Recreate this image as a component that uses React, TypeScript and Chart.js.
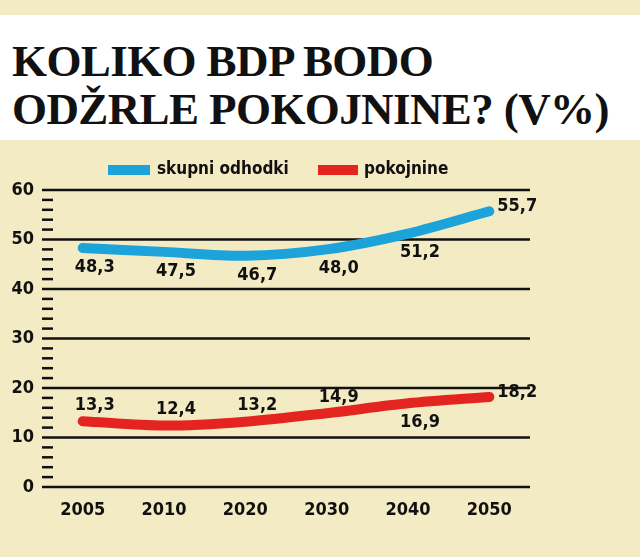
import React, { useEffect, useRef } from "react";
import { Chart, registerables } from "chart.js";
Chart.register(...registerables);

const categories = ["2005", "2010", "2020", "2030", "2040", "2050"];
const skupni = [48.3, 47.5, 46.7, 48.0, 51.2, 55.7];
const pokojnine = [13.3, 12.4, 13.2, 14.9, 16.9, 18.2];
const yTicks = [0, 10, 20, 30, 40, 50, 60];
const skupniPos = ["below", "below", "below", "below", "below", "right"];
const pokPos = ["above", "above", "above", "above", "below", "right"];
const fmt = (v: number) => v.toFixed(1).replace(".", ",");
const FONT = "'DejaVu Sans Condensed', 'Liberation Sans Narrow', sans-serif";

const drawPlugin = {
  id: "custom",
  beforeDatasetsDraw(chart: any) {
    const { ctx, chartArea: a, scales } = chart;
    const y = scales.y;
    ctx.save();
    ctx.strokeStyle = "#111";
    ctx.lineWidth = 2.5;
    yTicks.forEach((t) => {
      const py = y.getPixelForValue(t);
      ctx.beginPath(); ctx.moveTo(a.left, py); ctx.lineTo(a.right, py); ctx.stroke();
    });
    for (let v = 2; v < 60; v += 2) {
      if (v % 10 === 0) continue;
      const py = y.getPixelForValue(v);
      ctx.beginPath(); ctx.moveTo(a.left, py); ctx.lineTo(a.left + 11, py); ctx.stroke();
    }
    ctx.fillStyle = "#111";
    ctx.font = `bold 18px ${FONT}`;
    ctx.textAlign = "right"; ctx.textBaseline = "middle";
    yTicks.forEach((t) => ctx.fillText(String(t), a.left - 8, y.getPixelForValue(t)));
    ctx.textAlign = "center"; ctx.textBaseline = "top";
    categories.forEach((c, i) => ctx.fillText(c, scales.x.getPixelForValue(i), a.bottom + 14));
    ctx.lineWidth = 10; ctx.lineCap = "butt";
    ctx.strokeStyle = "#1ba3da";
    ctx.beginPath(); ctx.moveTo(108, 30); ctx.lineTo(150, 30); ctx.stroke();
    ctx.strokeStyle = "#e3241f";
    ctx.beginPath(); ctx.moveTo(318, 30); ctx.lineTo(358, 30); ctx.stroke();
    ctx.font = `bold 17px ${FONT}`;
    ctx.textAlign = "left"; ctx.textBaseline = "middle";
    ctx.fillText("skupni odhodki", 157, 30);
    ctx.fillText("pokojnine", 364, 30);
    ctx.restore();
  },
  afterDatasetsDraw(chart: any) {
    const { ctx, scales } = chart;
    ctx.save();
    ctx.fillStyle = "#111";
    ctx.font = `bold 18px ${FONT}`;
    const lab = (vals: number[], pos: string[]) => vals.forEach((v, i) => {
      const px = scales.x.getPixelForValue(i), py = scales.y.getPixelForValue(v);
      if (pos[i] === "right") { ctx.textAlign = "left"; ctx.textBaseline = "bottom"; ctx.fillText(fmt(v), px + 8, py + 4); }
      else if (pos[i] === "below") { ctx.textAlign = "center"; ctx.textBaseline = "top"; ctx.fillText(fmt(v), px + 12, py + 10); }
      else { ctx.textAlign = "center"; ctx.textBaseline = "bottom"; ctx.fillText(fmt(v), px + 12, py - 7); }
    });
    lab(skupni, skupniPos);
    lab(pokojnine, pokPos);
    ctx.restore();
  },
};

export default function App() {
  const ref = useRef<HTMLCanvasElement>(null);
  useEffect(() => {
    document.body.style.margin = "0";
    const chart = new Chart(ref.current!, {
      type: "line",
      data: {
        labels: categories,
        datasets: [
          { data: skupni, borderColor: "#1ba3da", borderWidth: 10, pointRadius: 0, tension: 0.3, borderCapStyle: "round" },
          { data: pokojnine, borderColor: "#e3241f", borderWidth: 10, pointRadius: 0, tension: 0.3, borderCapStyle: "round" },
        ],
      },
      options: {
        animation: false, responsive: false,
        layout: { padding: { left: 42, right: 110, top: 50, bottom: 70 } },
        plugins: { legend: { display: false }, tooltip: { enabled: false } },
        scales: {
          x: { display: false, offset: true },
          y: { display: false, min: 0, max: 60 },
        },
      },
      plugins: [drawPlugin],
    } as any);
    return () => chart.destroy();
  }, []);
  return (
    <div style={{ width: 640, height: 557, background: "#f3ebc4", position: "relative", overflow: "hidden" }}>
      <div style={{ position: "absolute", top: 15, left: 0, width: 640, height: 125, background: "#fff" }}>
        <div style={{ position: "absolute", left: 12, top: 22, fontFamily: "'Liberation Serif', serif", fontWeight: "bold", fontSize: 45, lineHeight: "48px", color: "#111", whiteSpace: "nowrap", letterSpacing: -0.6 }}>
          KOLIKO BDP BODO<br />ODŽRLE POKOJNINE? (V%)
        </div>
      </div>
      <canvas ref={ref} width={640} height={417} style={{ position: "absolute", top: 140, left: 0 }} />
    </div>
  );
}
